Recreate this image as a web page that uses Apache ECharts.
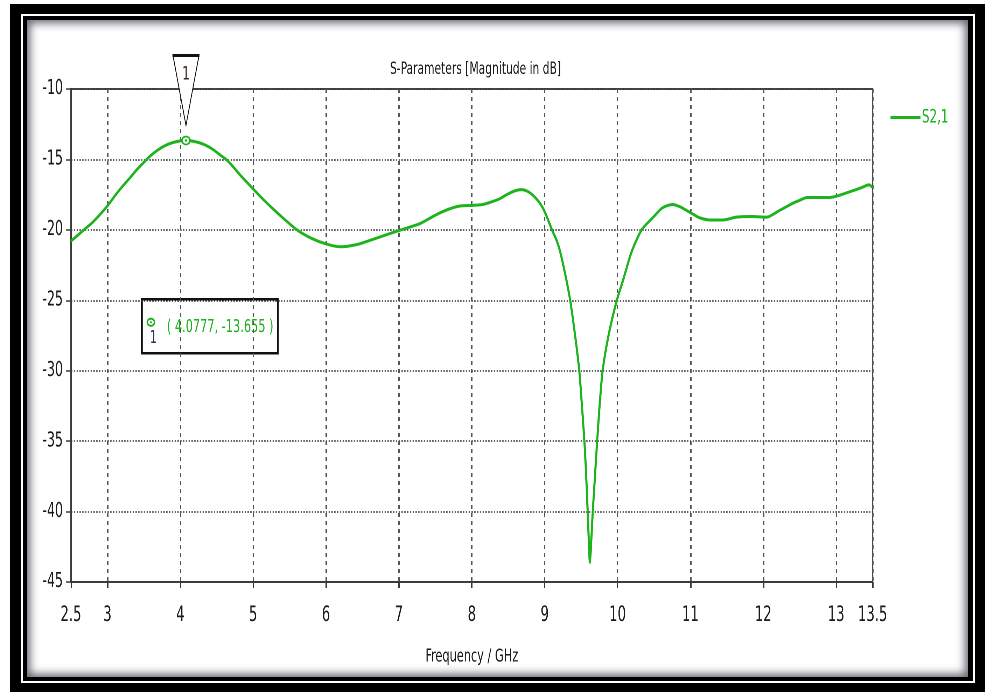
<!DOCTYPE html>
<html>
<head>
<meta charset="utf-8">
<title>S-Parameters</title>
<script src="https://cdn.jsdelivr.net/npm/echarts@6/dist/echarts.min.js"></script>
<style>
  html, body { margin: 0; padding: 0; background: #fff; width: 985px; height: 692px; overflow: hidden; }
  .layer { position: absolute; }
  #f1 { left: 10px; top: 4px; width: 975px; height: 688px; background: #000; }
  #f2 { left: 21px; top: 14px; width: 954px; height: 669px; background: #fff; }
  #f3 { left: 23px; top: 16px; width: 950px; height: 665px; background: #000; }
  #f4 { left: 27px; top: 20px; width: 941px; height: 657px; background: #fff;
        box-shadow: inset 0 0 8px 3px rgba(30, 36, 48, 0.7); }
  #chart { position: absolute; left: 0; top: 0; height: 692px; transform-origin: 0 0; }
</style>
</head>
<body>
<div class="layer" id="f1"></div>
<div class="layer" id="f2"></div>
<div class="layer" id="f3"></div>
<div class="layer" id="f4"></div>
<div id="chart"></div>
<script>
// Frequency sweep (GHz) and |S21| in dB
const freqGHz = [
  2.5, 2.6, 2.7, 2.8, 2.9, 3.0, 3.1, 3.2, 3.31, 3.4, 3.5, 3.6, 3.7, 3.8, 3.9, 4.0, 4.0777,
  4.15, 4.25, 4.35, 4.45, 4.55, 4.64, 4.73, 4.82, 4.91, 5.0, 5.14, 5.28, 5.44, 5.6, 5.8, 6.0,
  6.2, 6.42, 6.6, 6.74, 7.0, 7.15, 7.29, 7.45, 7.56, 7.7, 7.85, 8.02, 8.15, 8.25, 8.38, 8.48,
  8.58, 8.68, 8.76, 8.84, 8.92, 8.98, 9.04, 9.1, 9.16, 9.21, 9.28, 9.35, 9.42, 9.475, 9.51,
  9.545, 9.57, 9.59, 9.605, 9.62, 9.64, 9.66, 9.69, 9.72, 9.755, 9.795, 9.88, 9.99, 10.08,
  10.19, 10.33, 10.49, 10.6, 10.67, 10.76, 10.85, 10.94, 11.04, 11.13, 11.27, 11.45, 11.63,
  11.85, 12.05, 12.15, 12.23, 12.32, 12.41, 12.5, 12.6, 12.75, 12.91, 13.01, 13.1, 13.24,
  13.35, 13.45, 13.5
];
const s21dB = [
  -20.8, -20.35, -19.9, -19.45, -18.9, -18.3, -17.6, -16.95, -16.3, -15.75, -15.2, -14.7, -14.3, -14.0, -13.8, -13.68, -13.655,
  -13.68, -13.8, -14.0, -14.3, -14.7, -15.05, -15.55, -16.1, -16.6, -17.1, -17.85, -18.55, -19.3, -20.0, -20.6, -21.0,
  -21.2, -21.05, -20.75, -20.5, -20.05, -19.8, -19.55, -19.1, -18.8, -18.5, -18.3, -18.26, -18.2, -18.05, -17.8, -17.5,
  -17.25, -17.14, -17.25, -17.55, -18.0, -18.5, -19.2, -20.0, -20.7, -21.5, -23.1, -25.0, -27.6, -30.0, -32.4,
  -35.0, -37.5, -40.0, -42.0, -43.6, -42.0, -40.0, -37.5, -35.0, -32.4, -30.0, -27.4, -25.0, -23.5,
  -21.6, -20.0, -19.1, -18.5, -18.3, -18.2, -18.35, -18.6, -18.9, -19.15, -19.3, -19.3, -19.1,
  -19.05, -19.1, -18.85, -18.6, -18.35, -18.1, -17.9, -17.7, -17.7, -17.7, -17.6, -17.45, -17.2,
  -17.0, -16.8, -17.0
];

// Axis tick positions
const xTicks = [2.5, 3, 4, 5, 6, 7, 8, 9, 10, 11, 12, 13, 13.5];
const yMin = -45, yMax = -10, yStep = 5;

// Marker 1
const markerId = '1';
const markerF = 4.0777;
const markerDB = -13.655;

// The plot is laid out on a wider canvas and compressed horizontally,
// which gives the tall, narrow lettering of the solver's plot window.
const SX = 0.7;
const W = 985, H = 692;
const hx = v => v / SX;   // horizontal screen px -> canvas px

const green = '#1db31d';
const ink = '#1a1a1a';
const font = "'DejaVu Sans Condensed', 'DejaVu Sans', sans-serif";
const ringPath = 'path://M0,5 A5,5 0 1,1 10,5 A5,5 0 1,1 0,5 Z';

const el = document.getElementById('chart');
el.style.width = hx(W) + 'px';
el.style.transform = 'scaleX(' + SX + ')';

const chart = echarts.init(el, null, { renderer: 'canvas', devicePixelRatio: 2 });

chart.setOption({
  animation: false,
  backgroundColor: 'transparent',
  title: {
    text: 'S-Parameters [Magnitude in dB]',
    left: hx(472),
    top: 56,
    textAlign: 'center',
    textStyle: { fontFamily: font, fontSize: 17, fontWeight: 'normal', color: ink }
  },
  legend: {
    data: ['S2,1'],
    left: hx(887),
    top: 103,
    icon: 'rect',
    itemWidth: hx(30),
    itemHeight: 3,
    itemGap: 5,
    textStyle: { fontFamily: font, fontSize: 19, color: green, padding: [3, 0, 0, -3] }
  },
  grid: {
    left: hx(71), right: hx(W - 872.7), top: 89, bottom: H - 582,
    show: true,
    borderColor: '#4a4a4a',
    borderWidth: 2,
    containLabel: false
  },
  xAxis: {
    type: 'value',
    min: 2.5,
    max: 13.5,
    name: 'Frequency / GHz',
    nameLocation: 'middle',
    nameGap: 66,
    nameTextStyle: { fontFamily: font, fontSize: 18, color: ink },
    axisLine: { show: true, lineStyle: { color: '#3a3a3a', width: 2 } },
    axisTick: { show: true, length: 6, inside: false, customValues: xTicks,
                lineStyle: { color: '#3a3a3a', width: 2 } },
    axisLabel: {
      customValues: xTicks,
      margin: 23,
      fontFamily: font, fontSize: 21, color: ink,
      formatter: v => String(v)
    },
    splitLine: { show: true, lineStyle: { color: '#555', width: 2, type: [4, 4] } }
  },
  yAxis: {
    type: 'value',
    min: yMin,
    max: yMax,
    interval: yStep,
    axisLine: { show: true, lineStyle: { color: '#3a3a3a', width: 2.5 } },
    axisTick: { show: true, length: hx(5), inside: false, lineStyle: { color: '#3a3a3a', width: 1.5 } },
    axisLabel: { margin: hx(8), fontFamily: font, fontSize: 20, color: ink },
    splitLine: { show: true, lineStyle: { color: '#333', width: 1.5, type: [2, 2] } }
  },
  series: [{
    name: 'S2,1',
    type: 'line',
    data: freqGHz.map((f, i) => [f, s21dB[i]]),
    showSymbol: false,
    smooth: 0.25,
    lineStyle: { color: green, width: 3 },
    itemStyle: { color: green },
    z: 3,
    markPoint: {
      silent: true,
      label: { show: false },
      data: [
        {
          coord: [markerF, markerDB],
          symbol: 'path://M0,0 L26,0 L13,70 Z',
          symbolSize: [hx(26), 70],
          symbolOffset: [0, -50],
          itemStyle: { color: '#fff', borderColor: '#111', borderWidth: 1.5 },
          label: { show: true, position: 'inside', offset: [0, -16], formatter: markerId,
                   fontFamily: font, fontSize: 19, color: '#3b2a22' }
        },
        {
          coord: [markerF, markerDB],
          symbol: 'rect',
          symbolSize: [hx(27), 3],
          symbolOffset: [0, -85],
          itemStyle: { color: '#111' }
        },
        {
          coord: [markerF, markerDB],
          symbol: ringPath,
          symbolSize: [hx(8), 8],
          itemStyle: { color: '#fff', borderColor: green, borderWidth: 2 }
        },
        {
          coord: [markerF, markerDB],
          symbol: ringPath,
          symbolSize: [hx(2.5), 2.5],
          itemStyle: { color: green }
        }
      ]
    }
  }],
  graphic: [{
    type: 'group',
    left: hx(141),
    top: 298,
    children: [
      { type: 'rect', shape: { x: 0, y: 0, width: hx(136), height: 54 },
        style: { fill: '#fff', stroke: '#111', lineWidth: 2.5 } },
      { type: 'ellipse', shape: { cx: hx(9), cy: 23, rx: hx(3.6), ry: 3.6 },
        style: { fill: '#fff', stroke: green, lineWidth: 2 } },
      { type: 'ellipse', shape: { cx: hx(9), cy: 23, rx: hx(1), ry: 1 }, style: { fill: green } },
      { type: 'text', x: hx(8), y: 30,
        style: { text: markerId, fill: '#2d3550', font: '18px ' + font } },
      { type: 'text', x: hx(25), y: 28,
        style: { text: '( ' + markerF + ', ' + markerDB + ' )', fill: green,
                 font: '18px ' + font, verticalAlign: 'middle' } }
    ]
  }]
});
</script>
</body>
</html>
